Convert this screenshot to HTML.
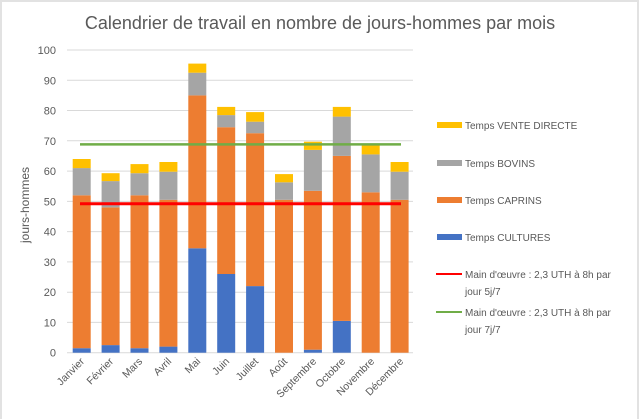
<!DOCTYPE html>
<html><head><meta charset="utf-8"><style>
html,body{margin:0;padding:0;background:#fff}
svg{display:block;font-family:"Liberation Sans",sans-serif}
</style></head><body>
<svg width="640" height="419" viewBox="0 0 640 419" xmlns="http://www.w3.org/2000/svg">
<rect x="0" y="0" width="640" height="419" fill="#fff"/>
<rect x="1" y="1" width="637" height="430" fill="none" stroke="#e2e2e2" stroke-width="2"/>
<text x="320" y="29" text-anchor="middle" font-size="18" fill="#595959">Calendrier de travail en nombre de jours-hommes par mois</text>
<g stroke="#d9d9d9" stroke-width="1">
<line x1="67" y1="50.0" x2="413" y2="50.0"/>
<line x1="67" y1="80.3" x2="413" y2="80.3"/>
<line x1="67" y1="110.5" x2="413" y2="110.5"/>
<line x1="67" y1="140.8" x2="413" y2="140.8"/>
<line x1="67" y1="171.1" x2="413" y2="171.1"/>
<line x1="67" y1="201.4" x2="413" y2="201.4"/>
<line x1="67" y1="231.6" x2="413" y2="231.6"/>
<line x1="67" y1="261.9" x2="413" y2="261.9"/>
<line x1="67" y1="292.2" x2="413" y2="292.2"/>
<line x1="67" y1="322.4" x2="413" y2="322.4"/>
<line x1="67" y1="352.7" x2="413" y2="352.7"/>
</g>
<g font-size="11" fill="#595959" text-anchor="end">
<text x="56" y="54">100</text>
<text x="56" y="84.3">90</text>
<text x="56" y="114.5">80</text>
<text x="56" y="144.8">70</text>
<text x="56" y="175.1">60</text>
<text x="56" y="205.4">50</text>
<text x="56" y="235.6">40</text>
<text x="56" y="265.9">30</text>
<text x="56" y="296.2">20</text>
<text x="56" y="326.4">10</text>
<text x="56" y="356.7">0</text>
</g>
<text transform="translate(29,205) rotate(-90)" text-anchor="middle" font-size="12" fill="#595959">jours-hommes</text>
<g>
<rect x="72.7" y="348.2" width="18" height="4.5" fill="#4472c4"/>
<rect x="72.7" y="195.3" width="18" height="152.9" fill="#ed7d31"/>
<rect x="72.7" y="168.1" width="18" height="27.2" fill="#a5a5a5"/>
<rect x="72.7" y="159.0" width="18" height="9.1" fill="#ffc000"/>
<rect x="101.6" y="345.1" width="18" height="7.6" fill="#4472c4"/>
<rect x="101.6" y="207.4" width="18" height="137.7" fill="#ed7d31"/>
<rect x="101.6" y="181.1" width="18" height="26.3" fill="#a5a5a5"/>
<rect x="101.6" y="173.2" width="18" height="7.9" fill="#ffc000"/>
<rect x="130.5" y="348.2" width="18" height="4.5" fill="#4472c4"/>
<rect x="130.5" y="195.3" width="18" height="152.9" fill="#ed7d31"/>
<rect x="130.5" y="173.2" width="18" height="22.1" fill="#a5a5a5"/>
<rect x="130.5" y="164.1" width="18" height="9.1" fill="#ffc000"/>
<rect x="159.4" y="346.6" width="18" height="6.1" fill="#4472c4"/>
<rect x="159.4" y="199.8" width="18" height="146.8" fill="#ed7d31"/>
<rect x="159.4" y="171.7" width="18" height="28.1" fill="#a5a5a5"/>
<rect x="159.4" y="162.0" width="18" height="9.7" fill="#ffc000"/>
<rect x="188.3" y="248.3" width="18" height="104.4" fill="#4472c4"/>
<rect x="188.3" y="95.4" width="18" height="152.9" fill="#ed7d31"/>
<rect x="188.3" y="72.7" width="18" height="22.7" fill="#a5a5a5"/>
<rect x="188.3" y="63.6" width="18" height="9.1" fill="#ffc000"/>
<rect x="217.2" y="274.0" width="18" height="78.7" fill="#4472c4"/>
<rect x="217.2" y="127.2" width="18" height="146.8" fill="#ed7d31"/>
<rect x="217.2" y="115.1" width="18" height="12.1" fill="#a5a5a5"/>
<rect x="217.2" y="106.9" width="18" height="8.2" fill="#ffc000"/>
<rect x="246.1" y="286.1" width="18" height="66.6" fill="#4472c4"/>
<rect x="246.1" y="133.2" width="18" height="152.9" fill="#ed7d31"/>
<rect x="246.1" y="121.7" width="18" height="11.5" fill="#a5a5a5"/>
<rect x="246.1" y="112.1" width="18" height="9.6" fill="#ffc000"/>
<rect x="275.0" y="199.8" width="18" height="152.9" fill="#ed7d31"/>
<rect x="275.0" y="182.3" width="18" height="17.5" fill="#a5a5a5"/>
<rect x="275.0" y="174.1" width="18" height="8.2" fill="#ffc000"/>
<rect x="303.9" y="349.7" width="18" height="3.0" fill="#4472c4"/>
<rect x="303.9" y="190.8" width="18" height="158.9" fill="#ed7d31"/>
<rect x="303.9" y="149.9" width="18" height="40.9" fill="#a5a5a5"/>
<rect x="303.9" y="141.7" width="18" height="8.2" fill="#ffc000"/>
<rect x="332.8" y="320.9" width="18" height="31.8" fill="#4472c4"/>
<rect x="332.8" y="155.9" width="18" height="165.0" fill="#ed7d31"/>
<rect x="332.8" y="116.6" width="18" height="39.3" fill="#a5a5a5"/>
<rect x="332.8" y="106.9" width="18" height="9.7" fill="#ffc000"/>
<rect x="361.7" y="192.3" width="18" height="160.4" fill="#ed7d31"/>
<rect x="361.7" y="154.4" width="18" height="37.9" fill="#a5a5a5"/>
<rect x="361.7" y="145.4" width="18" height="9.0" fill="#ffc000"/>
<rect x="390.6" y="199.8" width="18" height="152.9" fill="#ed7d31"/>
<rect x="390.6" y="171.7" width="18" height="28.1" fill="#a5a5a5"/>
<rect x="390.6" y="162.0" width="18" height="9.7" fill="#ffc000"/>
</g>
<line x1="80" y1="203.8" x2="401" y2="203.8" stroke="#ff0000" stroke-width="3"/>
<line x1="80" y1="144.4" x2="401" y2="144.4" stroke="#70ad47" stroke-width="2.5"/>
<g font-size="10.5" fill="#595959" text-anchor="end">
<text transform="translate(85,362) rotate(-45)">Janvier</text>
<text transform="translate(114,362) rotate(-45)">Février</text>
<text transform="translate(143,362) rotate(-45)">Mars</text>
<text transform="translate(172,362) rotate(-45)">Avril</text>
<text transform="translate(201,362) rotate(-45)">Mai</text>
<text transform="translate(230,362) rotate(-45)">Juin</text>
<text transform="translate(259,362) rotate(-45)">Juillet</text>
<text transform="translate(288,362) rotate(-45)">Août</text>
<text transform="translate(317,362) rotate(-45)">Septembre</text>
<text transform="translate(346,362) rotate(-45)">Octobre</text>
<text transform="translate(375,362) rotate(-45)">Novembre</text>
<text transform="translate(404,362) rotate(-45)">Décembre</text>
</g>
<g font-size="10" fill="#595959">
<rect x="437" y="122" width="25" height="6" fill="#ffc000"/>
<text x="465" y="129">Temps VENTE DIRECTE</text>
<rect x="437" y="160" width="25" height="6" fill="#a5a5a5"/>
<text x="465" y="167">Temps BOVINS</text>
<rect x="437" y="197" width="25" height="6" fill="#ed7d31"/>
<text x="465" y="204">Temps CAPRINS</text>
<rect x="437" y="234" width="25" height="6" fill="#4472c4"/>
<text x="465" y="241">Temps CULTURES</text>
<line x1="436" y1="274" x2="462" y2="274" stroke="#ff0000" stroke-width="2"/>
<text x="465" y="278">Main d'œuvre : 2,3 UTH à 8h par</text>
<text x="465" y="295">jour 5j/7</text>
<line x1="436" y1="312" x2="462" y2="312" stroke="#70ad47" stroke-width="2"/>
<text x="465" y="316">Main d'œuvre : 2,3 UTH à 8h par</text>
<text x="465" y="333">jour 7j/7</text>
</g>
</svg>
</body></html>
